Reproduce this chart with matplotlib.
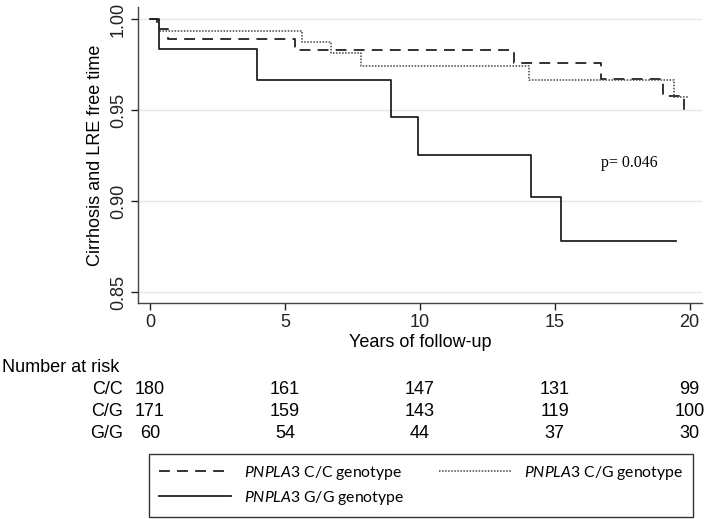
import matplotlib
matplotlib.use("Agg")
import matplotlib.pyplot as plt
import matplotlib.transforms as mtransforms

# Kaplan-Meier step data
cc_time = [0, 0.25, 0.65, 5.39, 13.49, 16.7, 19.0, 19.8]
cc_surv = [1.0, 0.9944, 0.9889, 0.9828, 0.9757, 0.9669, 0.9577, 0.9485]
cg_time = [0, 0.33, 5.62, 6.71, 7.82, 14.05, 19.43, 19.94]
cg_surv = [1.0, 0.9936, 0.9875, 0.9812, 0.9742, 0.9663, 0.9573, 0.9573]
gg_time = [0, 0.34, 3.97, 8.92, 9.92, 14.11, 15.23, 19.5]
gg_surv = [1.0, 0.9833, 0.9663, 0.946, 0.9251, 0.902, 0.8782, 0.8782]

risk_times = [0, 5, 10, 15, 20]
risk_labels = ["C/C", "C/G", "G/G"]
risk_cc = [180, 161, 147, 131, 99]
risk_cg = [171, 159, 143, 119, 100]
risk_gg = [60, 54, 44, 37, 30]

x_ticks = [0, 5, 10, 15, 20]
y_ticks = [0.85, 0.90, 0.95, 1.00]

plt.rcParams['font.family'] = ['Liberation Sans', 'DejaVu Sans']
plt.rcParams['mathtext.fontset'] = 'custom'
plt.rcParams['mathtext.it'] = 'Lato:italic'
plt.rcParams['mathtext.rm'] = 'Lato'

W, H = 709, 519
FS = 13
fig = plt.figure(figsize=(W / 100, H / 100), dpi=100)
ax = fig.add_axes([138 / W, 1 - 303 / H, (702 - 138) / W, (303 - 7) / H])

for y in y_ticks:
    ax.axhline(y, color='#e6e6e6', lw=1, zorder=0)

l_cc, = ax.step(cc_time, cc_surv, where='post', color='#222222', lw=1.3,
                linestyle=(0, (6, 4)))
l_cg, = ax.step(cg_time, cg_surv, where='post', color='#444444', lw=1.1,
                linestyle=(0, (1, 1)))
l_gg, = ax.step(gg_time, gg_surv, where='post', color='#222222', lw=1.3)

ax.set_xlim(-0.445, 20.46)
ax.set_ylim(0.844, 1.0066)
ax.set_xticks(x_ticks)
ax.set_yticks(y_ticks)
ax.set_yticklabels(["%.2f" % v for v in y_ticks], rotation=90, va='center')
ax.tick_params(direction='out', length=5, width=1, labelsize=FS, colors='#222222',
               pad=3)
for s in ['top', 'right']:
    ax.spines[s].set_visible(False)
for s in ['left', 'bottom']:
    ax.spines[s].set_color('#444444')
    ax.spines[s].set_linewidth(1)

ax.set_xlabel("Years of follow-up", fontsize=FS, labelpad=2)
ax.set_ylabel("Cirrhosis and LRE free time", fontsize=FS, labelpad=4)

ax.text(16.7, 0.921, "p= 0.046", family='Liberation Serif', fontsize=11.5,
        va='center', ha='left')

# number at risk table
trans = mtransforms.blended_transform_factory(ax.transData, fig.transFigure)
fig.text(2 / W, 1 - 368 / H, "Number at risk", fontsize=FS, va='center', ha='left')
rows_y = [390, 412, 434]
for lab, vals, yp in zip(risk_labels, [risk_cc, risk_cg, risk_gg], rows_y):
    fig.text(123 / W, 1 - yp / H, lab, fontsize=FS, va='center', ha='right')
    for t, v in zip(risk_times, vals):
        ax.text(t, 1 - yp / H, str(v), transform=trans, fontsize=FS,
                va='center', ha='center', clip_on=False)

leg = fig.legend([l_cc, l_gg, l_cg],
                 [r"$\it{PNPLA3}$ C/C genotype", r"$\it{PNPLA3}$ G/G genotype",
                  r"$\it{PNPLA3}$ C/G genotype"],
                 loc='lower left', ncol=2, mode='expand',
                 bbox_to_anchor=(149 / W, 2 / H, (693 - 149) / W, (517 - 454) / H),
                 prop={'family': 'Lato', 'size': 11.3}, frameon=True, fancybox=False,
                 edgecolor='#333333', framealpha=1, handlelength=4.6,
                 borderaxespad=0, borderpad=0.65, labelspacing=0.45,
                 handletextpad=0.8)
leg.get_frame().set_linewidth(1)

fig.savefig("out.png", dpi=100)
